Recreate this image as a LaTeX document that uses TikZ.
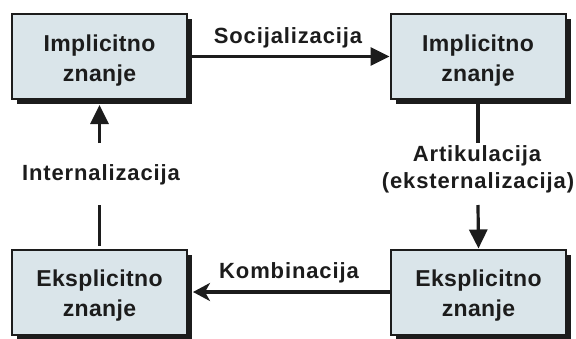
\documentclass[tikz,border=0pt]{standalone}
\usepackage{fontspec}
\setmainfont{Liberation Sans}
\newfontfamily\boxfont[LetterSpace=1.5]{Liberation Sans}
\newfontfamily\lblfont[LetterSpace=4.0]{Liberation Sans}
\usetikzlibrary{shadows,arrows.meta}
\definecolor{boxfill}{RGB}{218,229,234}
\definecolor{ink}{RGB}{28,28,28}
\tikzset{
  kbox/.style={rectangle, draw=ink, line width=2pt, fill=boxfill,
    minimum width=175pt, minimum height=85pt, inner sep=0pt,
    general shadow={shadow xshift=5pt, shadow yshift=-5pt, fill=ink}},
  ktext/.style={align=center, text=ink, inner sep=0pt,
    font=\boxfont\bfseries\fontsize{23}{30}\selectfont},
  klabel/.style={text=ink, inner sep=0pt, anchor=base,
    font=\lblfont\bfseries\fontsize{22}{28}\selectfont},
  kline/.style={draw=ink, line width=3.2pt},
  tri/.style={-{Triangle[length=19pt,width=18pt]}},
  stl/.style={-{Stealth[length=17pt,width=18pt,inset=5pt]}},
}
\begin{document}
\begin{tikzpicture}[x=1pt,y=-1pt]
\useasboundingbox (0,0) rectangle (576,338);
% boxes
\node[kbox] (TL) at (99.5,56.5) {};
\node[kbox] (TR) at (478,56.5) {};
\node[kbox] (BL) at (99.5,292) {};
\node[kbox] (BR) at (478.5,292) {};
\node[ktext] (TLt) at ([yshift=-4.5pt]TL.center) {Implicitno\\znanje};
\node[ktext] (TRt) at ([yshift=-4.5pt]TR.center) {Implicitno\\znanje};
\node[ktext] (BLt) at ([yshift=-4pt]BL.center) {Eksplicitno\\znanje};
\node[ktext] (BRt) at ([yshift=-4pt]BR.center) {Eksplicitno\\znanje};
% labels
\node[klabel] (soc) at (288,43) {Socijalizacija};
\node[klabel] (kom) at (289,278) {Kombinacija};
\node[klabel] (intl) at (101,180) {Internalizacija};
\node[klabel] (art) at (477,161) {Artikulacija};
\node[klabel] (ext) at (478,188) {(eksternalizacija)};
% gap ends of the vertical connectors
\coordinate (lgapT) at (99.5,143);
\coordinate (lgapB) at (99.5,205);
\coordinate (rgapT) at (478,143);
\coordinate (rgapB) at (478,205);
% connectors
\draw[kline,tri] ([xshift=4pt]TL.east) -- (TR.west);
\draw[kline,stl] (BR.west) -- ([xshift=5pt]BL.east);
\draw[kline] ([yshift=3pt]BL.north) -- (lgapB);
\draw[kline,tri] (lgapT) -- ([yshift=-5pt]TL.south);
\draw[kline] ([yshift=-4pt]TR.south) -- (rgapT);
\draw[kline,tri] (rgapB) -- (BR.north);
\end{tikzpicture}
\end{document}
